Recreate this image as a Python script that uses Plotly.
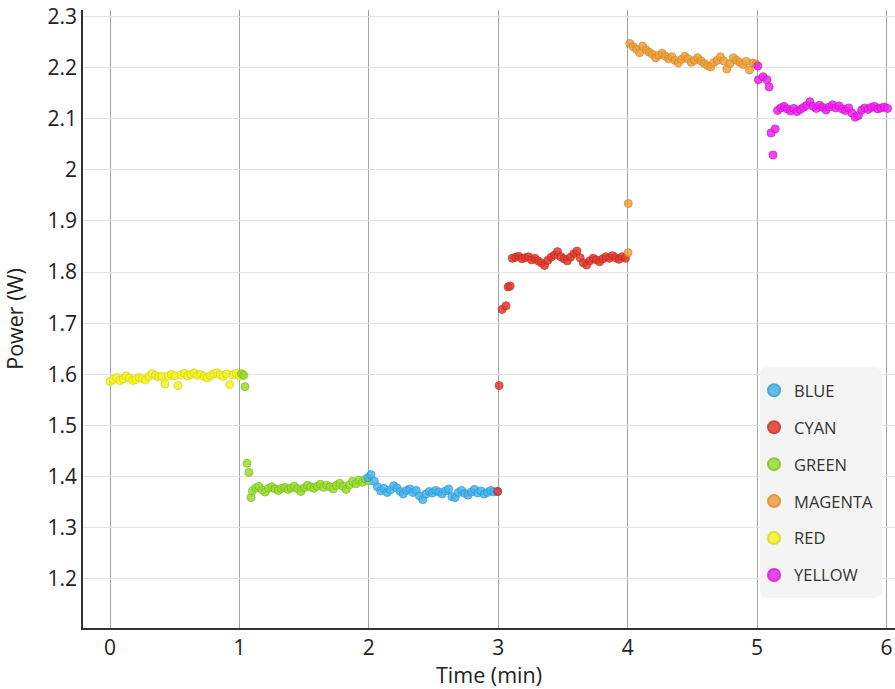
import plotly.graph_objects as go

# ---- data (time in seconds, power in W) ----
red_t = [0, 1.5, 3, 4.5, 6, 7.5, 9, 10.5, 12, 13.5, 15, 16.5, 18, 19.5, 21, 22.5, 24, 25.5, 27, 28.5,
         30, 31.5, 33, 34.5, 36, 37.5, 39, 40.5, 42, 43.5, 45, 46.5, 48, 49.5, 51, 52.5, 54, 55.5, 57, 58.5,
         60, 61.5]
red_p = [1.586, 1.590, 1.594, 1.588, 1.591, 1.597, 1.593, 1.588, 1.590, 1.594, 1.592, 1.589, 1.596, 1.601,
         1.598, 1.595, 1.596, 1.581, 1.597, 1.600, 1.597, 1.578, 1.599, 1.602, 1.597, 1.600, 1.603, 1.598,
         1.600, 1.596, 1.593, 1.597, 1.601, 1.603, 1.599, 1.596, 1.601, 1.580, 1.599, 1.602, 1.597, 1.600]

green_t = [61, 62, 62.6, 63.5, 64.4, 65.4, 66, 67.5, 69, 70.5, 72, 73.5, 75, 76.5, 78, 79.5, 81, 82.5, 84,
           85.5, 87, 88.5, 90, 91.5, 93, 94.5, 96, 97.5, 99, 100.5, 102, 103.5, 105, 106.5, 108, 109.5,
           111, 112.5, 114, 115.5, 117, 118.5, 120]
green_p = [1.601, 1.598, 1.576, 1.426, 1.408, 1.359, 1.372, 1.378, 1.381, 1.374, 1.370, 1.377, 1.380,
           1.376, 1.373, 1.377, 1.379, 1.375, 1.378, 1.381, 1.376, 1.371, 1.378, 1.383, 1.380, 1.377,
           1.381, 1.385, 1.379, 1.383, 1.380, 1.376, 1.383, 1.387, 1.381, 1.375, 1.384, 1.391, 1.386,
           1.393, 1.389, 1.395, 1.392]

blue_t = [119.5, 121, 122.5, 124, 125.5, 127, 128.5, 130, 131.5, 133, 134.5, 136, 137.5, 139, 140.5, 142,
          143.5, 145, 146.5, 148, 149.5, 151, 152.5, 154, 155.5, 157, 158.5, 160, 161.5, 163, 164.5, 166,
          167.5, 169, 170.5, 172, 173.5, 175, 176.5, 178, 179.5]
blue_p = [1.398, 1.404, 1.391, 1.380, 1.372, 1.377, 1.369, 1.374, 1.382, 1.378, 1.371, 1.366, 1.373,
          1.376, 1.369, 1.373, 1.362, 1.355, 1.366, 1.371, 1.368, 1.373, 1.370, 1.366, 1.372, 1.376,
          1.361, 1.359, 1.369, 1.373, 1.367, 1.364, 1.370, 1.375, 1.368, 1.372, 1.366, 1.369, 1.373,
          1.370, 1.371]

cyan_t = [179.8, 180.4, 181.8, 183.6, 184.6, 185.5, 186.5, 188, 189.5, 191, 192.5, 194, 195.5, 197, 198.5,
          200, 201.5, 203, 204.5, 206, 207.5, 209, 210.5, 212, 213.5, 215, 216.5, 218, 219.5, 221, 222.5,
          224, 225.5, 227, 228.5, 230, 231.5, 233, 234.5, 236, 237.5, 239]
cyan_p = [1.371, 1.578, 1.727, 1.734, 1.771, 1.773, 1.827, 1.829, 1.831, 1.826, 1.828, 1.830, 1.824,
          1.827, 1.822, 1.818, 1.813, 1.823, 1.829, 1.833, 1.840, 1.830, 1.826, 1.822, 1.829, 1.836,
          1.841, 1.828, 1.818, 1.814, 1.822, 1.827, 1.824, 1.820, 1.826, 1.830, 1.827, 1.832, 1.828,
          1.825, 1.830, 1.827]

magenta_t = [240.2, 240.3, 241, 242.5, 244, 245.5, 247, 248.5, 250, 251.5, 253, 254.5, 256, 257.5, 259,
             260.5, 262, 263.5, 265, 266.5, 268, 269.5, 271, 272.5, 274, 275.5, 277, 278.5, 280, 281.5,
             283, 284.5, 286, 287.5, 289, 290.5, 292, 293.5, 295, 296.5, 298, 299.5]
magenta_p = [1.838, 1.934, 2.247, 2.241, 2.236, 2.229, 2.242, 2.235, 2.230, 2.226, 2.219, 2.224, 2.228,
             2.222, 2.217, 2.221, 2.214, 2.209, 2.216, 2.222, 2.217, 2.210, 2.214, 2.219, 2.213, 2.208,
             2.204, 2.201, 2.210, 2.214, 2.221, 2.213, 2.197, 2.208, 2.219, 2.214, 2.210, 2.206, 2.212,
             2.195, 2.209, 2.207]

yellow_t = [300.4, 300.6, 302.8, 304.6, 305.6, 306.5, 307.4, 308.4, 309.5, 311, 312.5, 314, 315.5, 317,
            318.5, 320, 321.5, 323, 324.5, 326, 327.5, 329, 330.5, 332, 333.5, 335, 336.5, 338, 339.5,
            341, 342.5, 344, 345.5, 347, 348.5, 350, 351.5, 353, 354.5, 356, 357.5, 359, 360.5]
yellow_p = [2.203, 2.176, 2.182, 2.176, 2.162, 2.072, 2.029, 2.080, 2.116, 2.121, 2.124, 2.119, 2.115,
            2.120, 2.114, 2.118, 2.122, 2.126, 2.133, 2.124, 2.120, 2.126, 2.122, 2.117, 2.123, 2.127,
            2.121, 2.125, 2.119, 2.116, 2.121, 2.111, 2.103, 2.106, 2.117, 2.121, 2.118, 2.122, 2.124,
            2.119, 2.121, 2.123, 2.120]

x_ticks = [0, 1, 2, 3, 4, 5, 6]

# (name, times, powers, fill, outline, legend rank) in drawing order
series = [
    ("RED", red_t, red_p, "#f4f42a", "#d8d814", 5),
    ("GREEN", green_t, green_p, "#98dd30", "#7cc01c", 3),
    ("BLUE", blue_t, blue_p, "#45b6ee", "#3199d4", 1),
    ("CYAN", cyan_t, cyan_p, "#e2392c", "#c52b20", 2),
    ("MAGENTA", magenta_t, magenta_p, "#eda03a", "#d68a26", 4),
    ("YELLOW", yellow_t, yellow_p, "#f022f0", "#d010d0", 6),
]

fig = go.Figure()
for name, t, p, fill, edge, rank in series:
    fig.add_trace(go.Scatter(
        x=[v / 60 for v in t], y=p, mode="markers", name=name,
        legendgroup=name, legendrank=rank,
        marker=dict(size=8, color=fill, opacity=0.85, line=dict(color=edge, width=1)),
    ))

# rounded background panel for the legend (paper coordinates)
bx0, bx1, by0, by1 = 0.8337, 0.984, 0.0485, 0.4223
rx, ry = 0.0105, 0.0138
legend_box = (f"M {bx0+rx},{by0} L {bx1-rx},{by0} Q {bx1},{by0} {bx1},{by0+ry} "
              f"L {bx1},{by1-ry} Q {bx1},{by1} {bx1-rx},{by1} L {bx0+rx},{by1} "
              f"Q {bx0},{by1} {bx0},{by1-ry} L {bx0},{by0+ry} Q {bx0},{by0} {bx0+rx},{by0} Z")

font_family = "Open Sans, Lato, sans-serif"
fig.update_layout(
    width=895, height=689,
    margin=dict(l=83, r=0, t=10, b=61),
    paper_bgcolor="white", plot_bgcolor="white",
    font=dict(family=font_family, size=21, color="#222222"),
    showlegend=True,
    shapes=[dict(type="path", xref="paper", yref="paper", path=legend_box,
                 fillcolor="#f4f4f4", line=dict(width=0), layer="above")],
    legend=dict(
        x=0.8264, y=0.4126, xanchor="left", yanchor="top",
        bgcolor="rgba(0,0,0,0)", borderwidth=0,
        font=dict(size=16.5, color="#333333"),
        traceorder="grouped", tracegroupgap=12.5,
        itemsizing="constant", itemwidth=30,
    ),
    xaxis=dict(
        range=[-0.2087, 6.066], tickvals=x_ticks, ticktext=[str(v) for v in x_ticks],
        showgrid=True, gridcolor="#a3a3a3", gridwidth=1, automargin=False,
        zeroline=False, showline=True, linecolor="#333333", linewidth=1.5,
        ticks="", ticklabeloverflow="allow",
        title=dict(text="Time (min)", font=dict(size=21.5), standoff=3),
    ),
    yaxis=dict(
        range=[1.104, 2.3125], dtick=0.1, tick0=1.2, automargin=False,
        showgrid=True, gridcolor="#e3e3e3", gridwidth=1,
        zeroline=False, showline=True, linecolor="#333333", linewidth=1.5,
        ticks="", ticklabeloverflow="allow",
        title=dict(text="Power (W)", font=dict(size=21.5), standoff=18),
    ),
)

fig.write_html("out.html", config={"displayModeBar": False},
               post_script="document.body.style.margin='0';")
